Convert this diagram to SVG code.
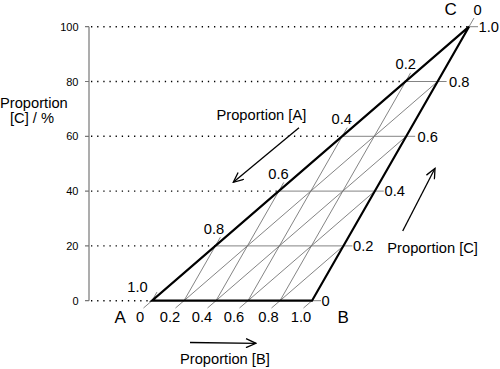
<svg xmlns="http://www.w3.org/2000/svg" width="500" height="369" viewBox="0 0 500 369">
<defs>
<style>
text{font-family:"Liberation Sans",Arial,sans-serif;fill:#000}
.lbl{font-size:14.7px}
.ax{font-size:11px;text-anchor:end}
.v{font-size:17px}
.mid{text-anchor:middle}
.grid{stroke:#6e6e6e;stroke-width:0.85;fill:none}
.dot{stroke:#000;stroke-width:1.4;stroke-dasharray:1.3 4.85;fill:none}
.edge{stroke:#000;stroke-width:2.2;fill:none;stroke-linejoin:miter}
.axis{stroke:#777;stroke-width:1.2;fill:none}
.arr{stroke:#000;stroke-width:1.3;fill:none;marker-end:url(#head)}
</style>
<marker id="head" viewBox="0 0 12 10" refX="11" refY="5" markerWidth="12" markerHeight="10" markerUnits="userSpaceOnUse" orient="auto">
<path d="M1,0.5 L11,5 L1,9.5" fill="none" stroke="#000" stroke-width="1.3"/>
</marker>
</defs>
<rect width="500" height="369" fill="#fff"/>

<g id="axis">
<path class="axis" d="M89,26.7V300.7M85,26.7H89M85,81.5H89M85,136.3H89M85,191.1H89M85,245.9H89M85,300.7H89"/>
<text class="ax" x="78.5" y="30.7">100</text>
<text class="ax" x="78.5" y="85.5">80</text>
<text class="ax" x="78.5" y="140.3">60</text>
<text class="ax" x="78.5" y="195.1">40</text>
<text class="ax" x="78.5" y="249.9">20</text>
<text class="ax" x="78.5" y="304.7">0</text>
<text class="lbl" x="0" y="107.5">Proportion</text>
<text class="lbl mid" x="32" y="123.3">[C] / %</text>
</g>

<g id="dotted">
<path class="dot" d="M91,26.7H469M91,81.5H405.6M91,136.3H342.2M91,191.1H278.8M91,245.9H215.4M91,300.7H152"/>
</g>

<g id="connectors">
<path class="grid" d="M215.4,245.9H352.4M278.8,191.1H383.8M342.2,136.3H415.2M405.6,81.5H446.6M312,300.7H321M469,26.7H478"/>
<path class="grid" d="M184,300.7L437.6,81.5M216,300.7L406.2,136.3M248,300.7L374.8,191.1M280,300.7L343.4,245.9"/>
<path class="grid" d="M152,300.7l-8.5,7.3M184,300.7l-8.5,7.3M216,300.7l-8.5,7.3M248,300.7l-8.5,7.3M280,300.7l-8.5,7.3M312,300.7l-8.5,7.3"/>
<path class="grid" d="M280,300.7L410.6,72.8M248,300.7L347.2,127.6M216,300.7L283.8,182.4M184,300.7L220.4,237.2M152,300.7l5,-8.7M469,26.7l5,-8.7"/>
<path class="edge" d="M152,300.7H312L469,26.7Z"/>
</g>

<g id="vertex-labels">
<text class="v" x="114.5" y="322.5">A</text>
<text class="v" x="337.5" y="323.3">B</text>
<text class="v" x="444.5" y="15">C</text>
</g>

<g id="scale-B">
<text class="lbl mid" x="140" y="321.7">0</text>
<text class="lbl mid" x="170" y="321.7">0.2</text>
<text class="lbl mid" x="202" y="321.7">0.4</text>
<text class="lbl mid" x="234" y="321.7">0.6</text>
<text class="lbl mid" x="268.5" y="321.7">0.8</text>
<text class="lbl mid" x="301" y="321.7">1.0</text>
</g>

<g id="scale-C">
<text class="lbl" x="321.5" y="306">0</text>
<text class="lbl" x="353" y="251.2">0.2</text>
<text class="lbl" x="384.5" y="196.4">0.4</text>
<text class="lbl" x="417.5" y="141.6">0.6</text>
<text class="lbl" x="449" y="86.8">0.8</text>
<text class="lbl" x="478.5" y="32">1.0</text>
</g>

<g id="scale-A">
<text class="lbl mid" x="137.5" y="291.7">1.0</text>
<text class="lbl mid" x="214" y="234">0.8</text>
<text class="lbl mid" x="278.5" y="178.5">0.6</text>
<text class="lbl mid" x="341.7" y="123.7">0.4</text>
<text class="lbl mid" x="405.7" y="68.5">0.2</text>
<text class="lbl mid" x="477.5" y="15">0</text>
</g>

<g id="label-A">
<text class="lbl" x="216.5" y="120">Proportion [A]</text>
<path class="arr" d="M299,127.7L233.3,182.3"/>
</g>
<g id="label-B">
<text class="lbl" x="180" y="363.5">Proportion [B]</text>
<path class="arr" d="M190,342.5L256,343.3"/>
</g>
<g id="label-C">
<text class="lbl" x="387.3" y="252.5">Proportion [C]</text>
<path class="arr" d="M402.7,231L435,168.3"/>
</g>
</svg>
